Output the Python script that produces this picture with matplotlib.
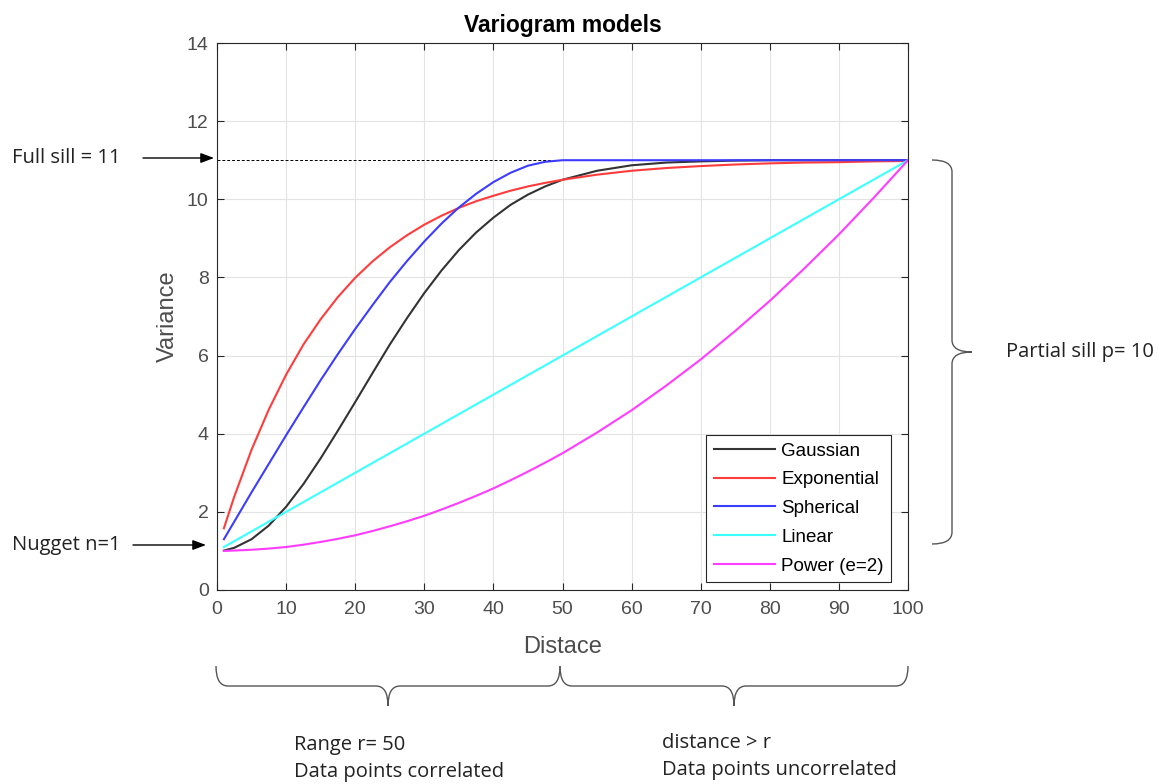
import numpy as np
import matplotlib
matplotlib.use('Agg')
import matplotlib.pyplot as plt
from matplotlib.path import Path
from matplotlib.patches import PathPatch

# lag distances the models were sampled at
distance = [1, 2.5, 5, 7.5, 10, 12.5, 15, 17.5, 20, 22.5, 25, 27.5, 30, 32.5, 35, 37.5,
            40, 42.5, 45, 47.5, 50, 55, 60, 65, 70, 75, 80, 85, 90, 95, 100]

# variance values
gaussian = [1.01, 1.08, 1.30, 1.65, 2.13, 2.71, 3.37, 4.08, 4.81, 5.55, 6.28, 6.96, 7.60,
            8.18, 8.70, 9.15, 9.53, 9.86, 10.12, 10.33, 10.50, 10.73, 10.87, 10.94, 10.97,
            10.99, 11.0, 11.0, 11.0, 11.0, 11.0]
exponential = [1.58, 2.39, 3.59, 4.62, 5.51, 6.28, 6.93, 7.50, 7.99, 8.41, 8.77, 9.08, 9.35,
               9.58, 9.78, 9.95, 10.09, 10.22, 10.33, 10.42, 10.50, 10.63, 10.73, 10.80,
               10.85, 10.89, 10.92, 10.94, 10.95, 10.97, 10.98]
spherical = [1.30, 1.75, 2.50, 3.23, 3.96, 4.67, 5.37, 6.04, 6.68, 7.29, 7.88, 8.42, 8.92,
             9.38, 9.79, 10.14, 10.44, 10.68, 10.86, 10.96, 11.0, 11.0, 11.0, 11.0, 11.0,
             11.0, 11.0, 11.0, 11.0, 11.0, 11.0]
linear = [1.10, 1.25, 1.50, 1.75, 2.00, 2.25, 2.50, 2.75, 3.00, 3.25, 3.50, 3.75, 4.00,
          4.25, 4.50, 4.75, 5.00, 5.25, 5.50, 5.75, 6.00, 6.50, 7.00, 7.50, 8.00, 8.50,
          9.00, 9.50, 10.00, 10.50, 11.00]
power = [1.00, 1.01, 1.03, 1.06, 1.10, 1.16, 1.23, 1.31, 1.40, 1.51, 1.63, 1.76, 1.90,
         2.06, 2.23, 2.41, 2.60, 2.81, 3.03, 3.26, 3.50, 4.03, 4.60, 5.23, 5.90, 6.63,
         7.40, 8.23, 9.10, 10.03, 11.00]

series = [('Gaussian', gaussian, '#333333'),
          ('Exponential', exponential, '#ff3c3c'),
          ('Spherical', spherical, '#3c3cff'),
          ('Linear', linear, '#3cffff'),
          ('Power (e=2)', power, '#ff3cff')]

full_sill = 11
x_ticks = np.arange(0, 101, 10)
y_ticks = np.arange(0, 15, 2)

plt.rcParams['font.family'] = 'Liberation Sans'

W, H = 1158, 784
fig = plt.figure(figsize=(W/100, H/100), dpi=100)
ax = fig.add_axes([217/W, 1 - 590/H, (908 - 217)/W, (590 - 43)/H])

for name, vals, col in series:
    ax.plot(distance, vals, color=col, lw=1.5, label=name)
ax.plot([0, 100], [full_sill, full_sill], color='k', ls=(0, (3, 2)), lw=0.7, zorder=1)

ax.set_xlim(0, 100)
ax.set_ylim(0, 14)
ax.set_xticks(x_ticks)
ax.set_yticks(y_ticks)
ax.grid(True, color='#e3e3e3', lw=0.8)
ax.set_axisbelow(True)
ax.tick_params(direction='in', top=True, right=True, length=5, labelsize=14,
               colors='#262626', labelcolor='#4d4d4d', pad=6)
ax.tick_params(axis='x', pad=8)
for s in ax.spines.values():
    s.set_color('#262626')
    s.set_linewidth(0.8)
ax.set_xlabel('Distace', fontsize=17, color='#4d4d4d', labelpad=13)
ax.set_ylabel('Variance', fontsize=17, color='#4d4d4d', labelpad=6)
ax.set_title('Variogram models', fontsize=16.5, fontweight='bold', pad=8)
leg = ax.legend(loc='lower right', bbox_to_anchor=(0.9754, 0.0146), borderaxespad=0,
                fontsize=13.5, fancybox=False, framealpha=1, edgecolor='#262626',
                handlelength=3.3, handletextpad=0.3, labelspacing=0.62, borderpad=0.4)
leg.get_frame().set_linewidth(0.8)

# overlay in pixel coordinates for the notes and braces
ov = fig.add_axes([0, 0, 1, 1])
ov.set_xlim(0, W)
ov.set_ylim(H, 0)
ov.axis('off')
ov.patch.set_visible(False)

note = dict(fontsize=14.5, family='Open Sans', color='#222222')
ov.text(12, 158, 'Full sill = 11', va='center', **note)
ov.text(12, 545, 'Nugget n=1', va='center', **note)
ov.text(1006, 352, 'Partial sill p= 10', va='center', **note)
ov.text(294, 745, 'Range r= 50', va='center', **note)
ov.text(294, 772, 'Data points correlated', va='center', **note)
ov.text(662, 743, 'distance > r', va='center', **note)
ov.text(662, 770, 'Data points uncorrelated', va='center', **note)

arrow = dict(arrowstyle='-|>,head_length=0.8,head_width=0.3', color='k', lw=1.0,
             shrinkA=0, shrinkB=0)
ov.annotate('', xy=(214, 158), xytext=(143, 158), arrowprops=arrow)
ov.annotate('', xy=(206, 545), xytext=(133, 545), arrowprops=arrow)


def brace_v(x, y0, y1, w, r=12):
    # vertical curly brace opening left, tip pointing right
    ym = (y0 + y1) / 2
    verts = [(x - w, y0), (x, y0), (x, y0 + r),
             (x, ym - r), (x, ym), (x + w, ym),
             (x, ym), (x, ym + r),
             (x, y1 - r), (x, y1), (x - w, y1)]
    codes = [Path.MOVETO, Path.CURVE3, Path.CURVE3,
             Path.LINETO, Path.CURVE3, Path.CURVE3,
             Path.CURVE3, Path.CURVE3,
             Path.LINETO, Path.CURVE3, Path.CURVE3]
    return Path(verts, codes)


def brace_h(x0, x1, y, h, r=12):
    # horizontal curly brace opening up, tip pointing down
    xm = (x0 + x1) / 2
    verts = [(x0, y - h), (x0, y), (x0 + r, y),
             (xm - r, y), (xm, y), (xm, y + h),
             (xm, y), (xm + r, y),
             (x1 - r, y), (x1, y), (x1, y - h)]
    codes = [Path.MOVETO, Path.CURVE3, Path.CURVE3,
             Path.LINETO, Path.CURVE3, Path.CURVE3,
             Path.CURVE3, Path.CURVE3,
             Path.LINETO, Path.CURVE3, Path.CURVE3]
    return Path(verts, codes)


bstyle = dict(fc='none', ec='#555555', lw=1.0)
ov.add_patch(PathPatch(brace_v(952, 160, 544, 20), **bstyle))
ov.add_patch(PathPatch(brace_h(216, 560, 686, 20), **bstyle))
ov.add_patch(PathPatch(brace_h(560, 908, 686, 20), **bstyle))

fig.savefig('out.png', dpi=100)
